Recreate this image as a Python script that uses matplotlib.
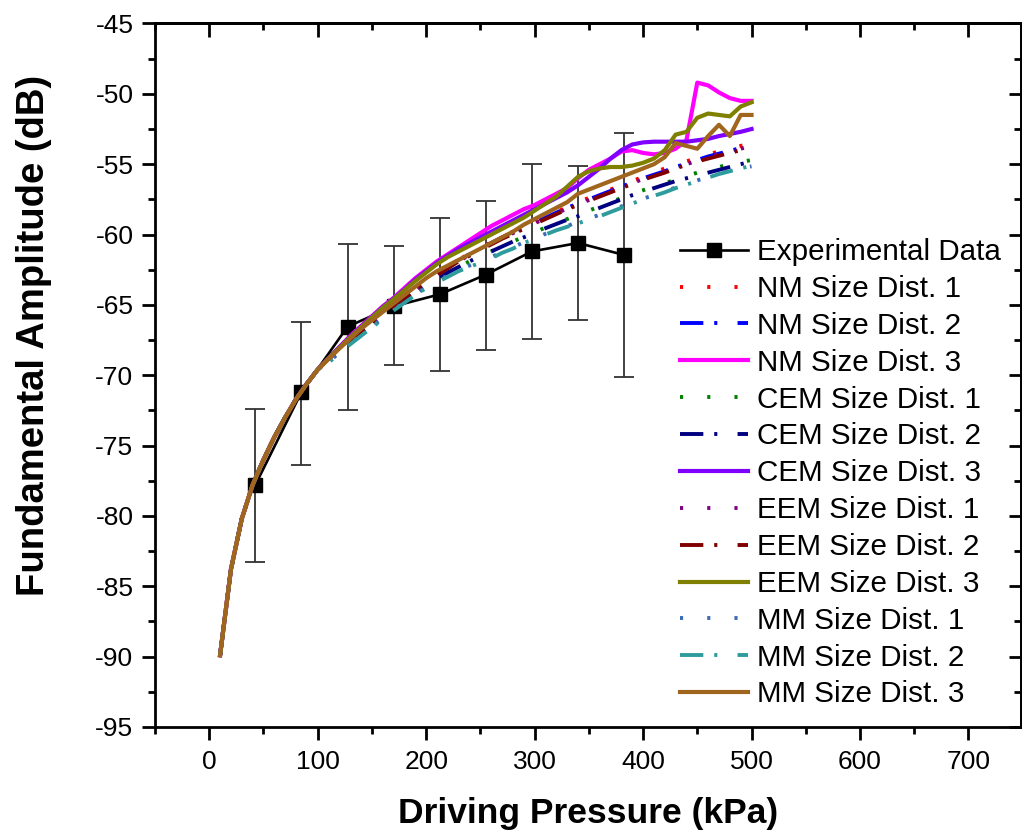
import matplotlib
matplotlib.use('Agg')
import matplotlib.pyplot as plt
from matplotlib.ticker import MultipleLocator
import numpy as np

plt.rcParams['font.family'] = ['Liberation Sans', 'DejaVu Sans']
plt.rcParams['axes.unicode_minus'] = False

# driving pressure grid for the model curves (kPa)
pressure = list(range(10, 510, 10))

# shared low-pressure part of every model curve (10..100 kPa)
low_part = [-89.9, -83.8, -80.2, -77.8, -76.0, -74.4, -73.0, -71.7, -70.6, -69.6]

# 110..500 kPa for each model / size distribution
nm1 = [-68.85, -68.15, -67.45, -66.8, -66.2, -65.6, -65.0, -64.4, -63.85, -63.3,
       -62.8, -62.3, -61.8, -61.35, -60.95, -60.55, -60.15, -59.8, -59.45, -59.1,
       -58.75, -58.4, -58.05, -57.7, -57.4, -57.1, -56.8, -56.5, -56.2, -55.9,
       -55.6, -55.3, -55.05, -54.8, -54.55, -54.3, -54.1, -53.9, -53.7, -53.5]
nm2 = [-68.85, -68.15, -67.45, -66.85, -66.2, -65.6, -65.0, -64.4, -63.85, -63.3,
       -62.8, -62.3, -61.8, -61.4, -61.0, -60.6, -60.2, -59.85, -59.5, -59.15,
       -58.8, -58.45, -58.1, -57.8, -57.5, -57.2, -56.9, -56.6, -56.3, -56.0,
       -55.75, -55.5, -55.2, -54.95, -54.7, -54.45, -54.25, -54.05, -53.85, -53.65]
nm3 = [-68.8, -68.0, -67.2, -66.5, -65.8, -65.1, -64.5, -63.8, -63.1, -62.5,
       -61.9, -61.4, -60.9, -60.4, -59.9, -59.4, -59.0, -58.6, -58.2, -57.9,
       -57.5, -57.1, -56.7, -56.0, -55.4, -55.0, -54.6, -54.1, -54.0, -54.2,
       -54.3, -54.2, -53.9, -53.3, -49.2, -49.4, -49.9, -50.3, -50.5, -50.5]
cem1 = [-68.9, -68.25, -67.6, -67.0, -66.4, -65.8, -65.2, -64.65, -64.1, -63.6,
        -63.1, -62.7, -62.3, -61.9, -61.55, -61.2, -60.85, -60.5, -60.15, -59.85,
        -59.5, -59.2, -58.9, -58.6, -58.3, -58.0, -57.7, -57.4, -57.1, -56.85,
        -56.6, -56.35, -56.1, -55.85, -55.6, -55.4, -55.2, -55.0, -54.85, -54.7]
cem2 = [-68.9, -68.25, -67.6, -67.0, -66.4, -65.8, -65.2, -64.65, -64.1, -63.6,
        -63.1, -62.7, -62.3, -61.9, -61.55, -61.2, -60.85, -60.5, -60.2, -59.9,
        -59.55, -59.25, -58.95, -58.7, -58.4, -58.1, -57.8, -57.5, -57.2, -56.95,
        -56.7, -56.45, -56.2, -56.0, -55.8, -55.6, -55.4, -55.2, -55.0, -54.8]
cem3 = [-68.8, -68.0, -67.25, -66.55, -65.85, -65.15, -64.55, -63.9, -63.2, -62.6,
        -62.0, -61.5, -61.0, -60.6, -60.2, -59.8, -59.4, -59.0, -58.6, -58.2,
        -57.8, -57.4, -57.0, -56.5, -55.9, -55.3, -54.6, -54.0, -53.6, -53.45,
        -53.4, -53.4, -53.4, -53.4, -53.3, -53.2, -53.0, -52.85, -52.7, -52.5]
eem1 = [-68.9, -68.2, -67.5, -66.9, -66.3, -65.7, -65.1, -64.5, -63.95, -63.4,
        -62.9, -62.4, -61.9, -61.45, -61.05, -60.65, -60.25, -59.9, -59.55, -59.2,
        -58.85, -58.5, -58.15, -57.85, -57.55, -57.25, -56.95, -56.65, -56.35, -56.05,
        -55.8, -55.5, -55.25, -55.0, -54.75, -54.5, -54.3, -54.1, -53.9, -53.7]
eem2 = [-68.9, -68.2, -67.5, -66.9, -66.3, -65.7, -65.1, -64.5, -63.95, -63.4,
        -62.9, -62.4, -61.9, -61.5, -61.1, -60.7, -60.3, -59.95, -59.6, -59.25,
        -58.9, -58.55, -58.2, -57.9, -57.6, -57.3, -57.0, -56.7, -56.4, -56.1,
        -55.85, -55.6, -55.3, -55.05, -54.8, -54.6, -54.4, -54.2, -54.0, -53.8]
eem3 = [-68.8, -68.05, -67.3, -66.6, -65.9, -65.2, -64.6, -63.95, -63.3, -62.7,
        -62.1, -61.6, -61.2, -60.8, -60.4, -60.0, -59.6, -59.2, -58.8, -58.3,
        -57.8, -57.3, -56.6, -55.9, -55.5, -55.3, -55.2, -55.2, -55.1, -54.9,
        -54.6, -54.0, -52.9, -52.7, -51.7, -51.4, -51.5, -51.6, -50.9, -50.6]
mm1 = [-69.05, -68.4, -67.75, -67.15, -66.55, -65.95, -65.35, -64.8, -64.25, -63.75,
       -63.3, -62.9, -62.5, -62.2, -61.9, -61.6, -61.25, -60.9, -60.55, -60.25,
       -59.95, -59.65, -59.4, -59.1, -58.85, -58.6, -58.3, -58.0, -57.7, -57.45,
       -57.2, -56.95, -56.65, -56.4, -56.15, -55.9, -55.65, -55.45, -55.3, -55.15]
mm2 = [-69.1, -68.45, -67.8, -67.2, -66.6, -66.0, -65.4, -64.85, -64.3, -63.8,
       -63.4, -63.0, -62.6, -62.3, -62.0, -61.7, -61.3, -61.0, -60.6, -60.3,
       -60.0, -59.7, -59.45, -59.2, -58.95, -58.7, -58.4, -58.1, -57.8, -57.5,
       -57.25, -57.0, -56.7, -56.45, -56.2, -55.95, -55.7, -55.5, -55.3, -55.1]
mm3 = [-68.85, -68.1, -67.4, -66.7, -66.1, -65.5, -64.9, -64.3, -63.7, -63.1,
       -62.6, -62.2, -61.8, -61.4, -61.0, -60.6, -60.2, -59.8, -59.3, -58.9,
       -58.5, -58.1, -57.7, -57.1, -56.8, -56.5, -56.2, -55.9, -55.6, -55.3,
       -55.0, -54.5, -53.5, -53.7, -53.9, -53.0, -52.2, -53.0, -51.5, -51.5]

# experimental points with error bar ends
exp_p = [42.5, 85, 127.5, 170, 212.5, 255, 297.5, 340, 382.5]
exp_db = [-77.8, -71.2, -66.55, -65.1, -64.25, -62.85, -61.2, -60.6, -61.45]
exp_top = [-72.4, -66.2, -60.7, -60.8, -58.85, -57.6, -55.0, -55.1, -52.8]
exp_bot = [-83.3, -76.4, -72.45, -69.3, -69.7, -68.2, -67.4, -66.1, -70.1]

labels = ['NM Size Dist. 1', 'NM Size Dist. 2', 'NM Size Dist. 3',
          'CEM Size Dist. 1', 'CEM Size Dist. 2', 'CEM Size Dist. 3',
          'EEM Size Dist. 1', 'EEM Size Dist. 2', 'EEM Size Dist. 3',
          'MM Size Dist. 1', 'MM Size Dist. 2', 'MM Size Dist. 3']
series = [nm1, nm2, nm3, cem1, cem2, cem3, eem1, eem2, eem3, mm1, mm2, mm3]
colors = ['#FF0000', '#0000FF', '#FF00FF',
          '#008000', '#000080', '#8000FF',
          '#800080', '#800000', '#808000',
          '#3A6BB5', '#2E9C9C', '#A0661E']

dotted = (0, (0.8, 6.2))
dashdot = (0, (6.0, 2.8, 0.8, 5.2))
styles = [dotted, dashdot, '-'] * 4

fig = plt.figure(figsize=(10.22, 8.38), dpi=100)
ax = fig.add_axes([155 / 1022, 1 - 727 / 838, 865.5 / 1022, 703.5 / 838])

ex = np.array(exp_db)
yerr = [ex - np.array(exp_bot), np.array(exp_top) - ex]
ax.errorbar(exp_p, exp_db, yerr=yerr, fmt='none', ecolor='#333333',
            elinewidth=1.3, capsize=7, capthick=1.3, zorder=1)
h_exp, = ax.plot(exp_p, exp_db, color='black', lw=1.9, marker='s',
                 markersize=10.5, label='Experimental Data', zorder=2)

handles = [h_exp]
for i, (vals, lab, col, ls) in enumerate(zip(series, labels, colors, styles)):
    lw = 3.0 if ls == '-' else 2.8
    h, = ax.plot(pressure, low_part + vals, color=col, lw=lw, linestyle=ls,
                 label=lab, zorder=3 + i)
    handles.append(h)

ax.set_xlim(-50, 748)
ax.set_ylim(-95, -45)
ax.xaxis.set_major_locator(MultipleLocator(100))
ax.xaxis.set_minor_locator(MultipleLocator(50))
ax.yaxis.set_major_locator(MultipleLocator(5))
ax.yaxis.set_minor_locator(MultipleLocator(2.5))
ax.set_xticks(range(0, 800, 100))

for sp in ax.spines.values():
    sp.set_linewidth(2.0)
ax.tick_params(which='major', direction='out', length=9.5, width=2.0,
               labelsize=19, pad=6)
ax.tick_params(which='minor', direction='out', length=5, width=2.0)
ax.tick_params(axis='x', which='major', pad=7)

# mirrored ticks on top and right, pointing inwards
top = ax.secondary_xaxis('top')
top.set_xticks(range(0, 800, 100))
top.xaxis.set_minor_locator(MultipleLocator(50))
top.tick_params(which='major', direction='in', length=10, width=2.0, labeltop=False)
top.tick_params(which='minor', direction='in', length=5, width=2.0)
top.spines['top'].set_linewidth(2.0)
right = ax.secondary_yaxis('right')
right.yaxis.set_major_locator(MultipleLocator(5))
right.yaxis.set_minor_locator(MultipleLocator(2.5))
right.tick_params(which='major', direction='in', length=9, width=2.0, labelright=False)
right.tick_params(which='minor', direction='in', length=5, width=2.0)
right.spines['right'].set_linewidth(2.0)

ax.set_xlabel('Driving Pressure (kPa)', fontsize=25.5, fontweight='bold')
ax.set_ylabel('Fundamental Amplitude (dB)', fontsize=27.5, fontweight='bold')
ax.xaxis.set_label_coords(0.5, -0.10)
ax.yaxis.set_label_coords(-0.119, 0.557)

leg = ax.legend(handles=handles, loc='upper left',
                bbox_to_anchor=(680 / 1022, 1 - 238 / 838),
                bbox_transform=fig.transFigure, frameon=False,
                fontsize=21.3, handlelength=2.3, handletextpad=0.3,
                labelspacing=0.3, borderpad=0, borderaxespad=0, numpoints=1)

fig.savefig('out.png', dpi=100)
